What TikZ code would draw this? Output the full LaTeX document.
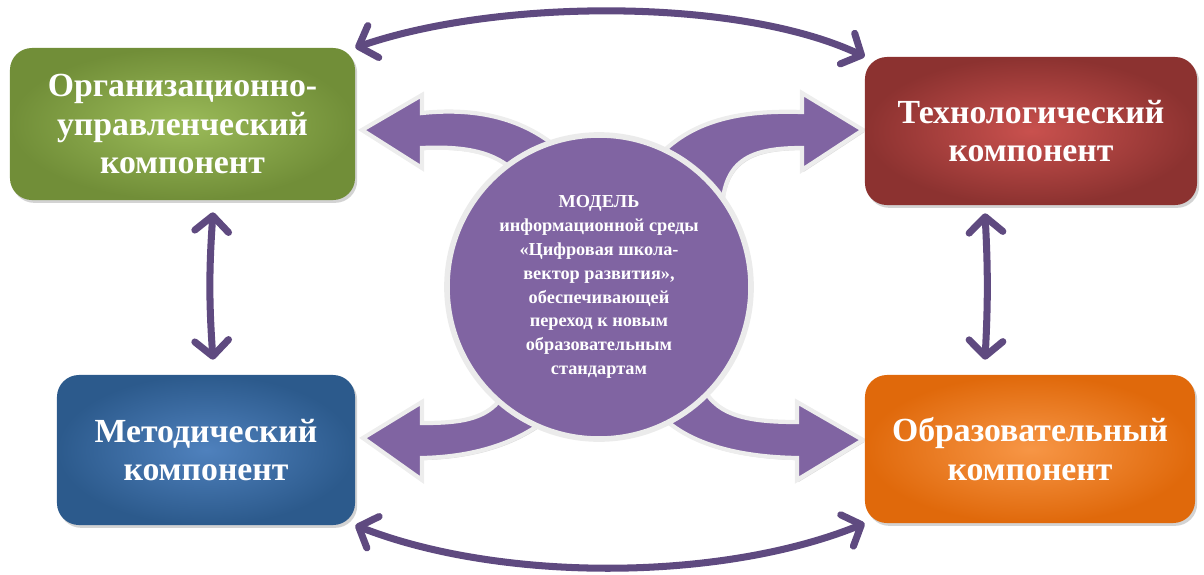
\documentclass[tikz,border=0pt]{standalone}
\usepackage{fontspec}
\setmainfont{Liberation Serif}
\usetikzlibrary{arrows.meta,shadows}
\definecolor{orgIn}{HTML}{9BBB59}
\definecolor{orgOut}{HTML}{718E38}
\definecolor{techIn}{HTML}{C9514E}
\definecolor{techOut}{HTML}{8C3230}
\definecolor{methIn}{HTML}{4F81BD}
\definecolor{methOut}{HTML}{2C5A8C}
\definecolor{eduIn}{HTML}{F79646}
\definecolor{eduOut}{HTML}{E0690B}
\definecolor{hubfill}{HTML}{8064A2}
\definecolor{linkcol}{HTML}{5F4A80}
\tikzstyle{box}=[rounded corners=0.55cm, text=white, align=center, node font=\fontsize{24pt}{27.5pt}\selectfont\bfseries, drop shadow={shadow xshift=1.5pt, shadow yshift=-2pt, opacity=0.35}]
\tikzstyle{hub}=[circle, fill=hubfill, draw=white!92!black, line width=4pt, minimum size=7.6cm, inner sep=0pt, text=white, align=center, node font=\fontsize{13pt}{17pt}\selectfont\bfseries]
\tikzstyle{bigarrow}=[fill=hubfill, draw=white!93!black, line width=3pt, drop shadow={shadow xshift=1pt, shadow yshift=-1.5pt, opacity=0.3}]
\tikzstyle{link}=[draw=linkcol, line width=5pt, line cap=round, {Straight Barb[length=11pt,width=24pt,round]}-{Straight Barb[length=11pt,width=24pt,round]}]

\begin{document}
\begin{tikzpicture}[x=0.025cm, y=-0.025cm]
		\useasboundingbox (0,0) rectangle (1204,574);
		% Curved block arrows from the model outwards
		\path[bigarrow] (362,130) -- (422,95) -- (422,113) .. controls (470,108) and (520,115) .. (560,150)
			-- (540,200) -- (515,172) .. controls (495,152) and (465,146) .. (422,148) -- (422,168) -- cycle;
		\path[bigarrow] (863,130) -- (802,93) -- (802,112) .. controls (740,110) and (690,120) .. (655,160)
			-- (690,200) -- (722,215) .. controls (722,160) and (750,148) .. (802,148) -- (802,170) -- cycle;
		\path[bigarrow] (363,438) -- (422,402) -- (422,423) .. controls (460,423) and (490,420) .. (505,392)
			-- (530,380) -- (548,418) .. controls (515,445) and (470,457) .. (422,458) -- (422,480) -- cycle;
		\path[bigarrow] (863,440) -- (797,402) -- (797,422) .. controls (745,422) and (712,415) .. (700,380)
			-- (680,400) -- (660,415) .. controls (690,445) and (740,457) .. (797,458) -- (797,480) -- cycle;
		
		% The model in the middle
		\node[hub] (model) at (599,287) {МОДЕЛЬ\\информационной среды\\«Цифровая школа-\\вектор развития»,\\обеспечивающей\\переход к новым\\образовательным\\стандартам};
		
		% Then the four components
		\foreach \pos/\name/\cin/\cout/\bw/\bh/\txt in {
			{(182.5,124)/org/orgIn/orgOut/8.625cm/3.8cm/{Организационно-\\управленческий\\компонент}},
			{(1031,131)/tech/techIn/techOut/8.3cm/3.7cm/{Технологический\\компонент}},
			{(206,450)/meth/methIn/methOut/7.45cm/3.75cm/{Методический\\компонент}},
			{(1030,449)/edu/eduIn/eduOut/8.25cm/3.7cm/{Образовательный\\компонент}}}
		\node[box, inner color=\cin, outer color=\cout, minimum width=\bw, minimum height=\bh] (\name) at \pos {\txt};
		
		% Connect components with double arrows
		\draw[link] (org.north east) .. controls (500,-2) and (740,-2) .. (tech.north west);
		\draw[link] (meth.south east) .. controls (500,582) and (720,582) .. (edu.south west);
		\draw[link] ([xshift=0.7625cm,yshift=-0.3cm]org.south) to[bend right=4] ([xshift=0.175cm,yshift=0.375cm]meth.north);
		\draw[link] ([xshift=-1.15cm,yshift=-0.2cm]tech.south) to[bend left=3] ([xshift=-1.125cm,yshift=0.375cm]edu.north);
\end{tikzpicture}
\end{document}
